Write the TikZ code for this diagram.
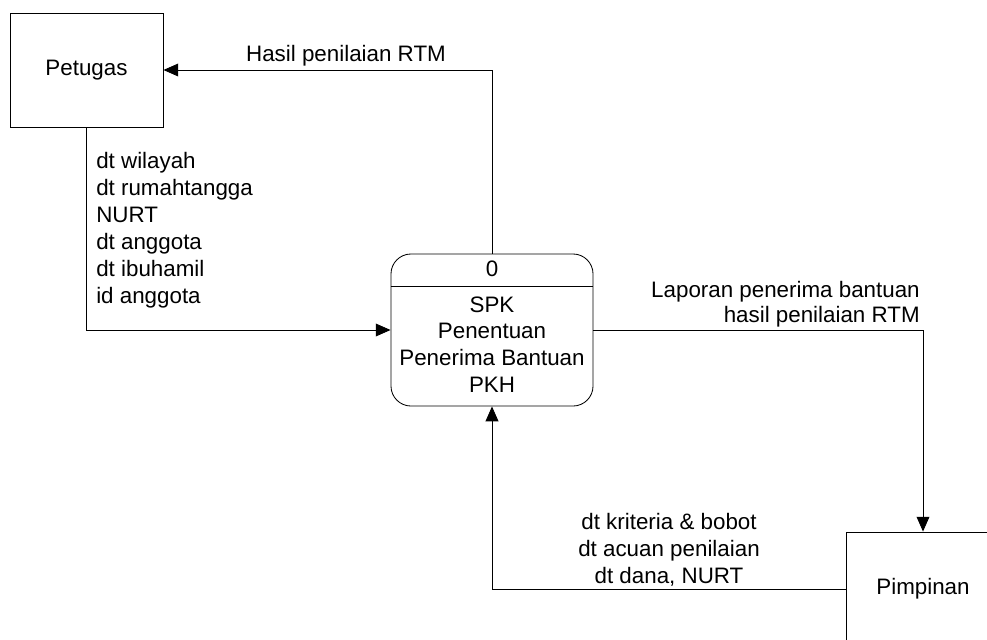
\documentclass[tikz,border=0pt]{standalone}
\usepackage{fontspec}
\setmainfont{Liberation Sans}
\usetikzlibrary{arrows.meta,positioning}

\tikzset{
	entitas/.style={draw, line width=0.6pt, minimum width=3.825cm, minimum height=2.85cm, inner sep=0pt},
	proses/.style={draw, line width=0.6pt, rounded corners=0.5cm, minimum width=5.05cm, minimum height=3.8cm, inner sep=0pt},
	alir/.style={line width=0.6pt, -{Triangle[length=0.37cm, width=0.32cm]}},
	ket/.style={inner sep=0pt, font=\fontsize{15.9}{19.2}\selectfont}
}

\begin{document}
\begin{tikzpicture}[x=0.025cm, y=-0.025cm, font=\fontsize{15.9}{19.2}\selectfont]

	% Fix the page size
	\useasboundingbox (0,0) rectangle (987,639);
	\clip (0,0) rectangle (987,639);

	% Draw the two external entities
	\node[entitas] (petugas) at (86.5,70) {Petugas};
	\node[entitas] (pimpinan) at (923,589) {};
	\node[ket] (namapimpinan) at (923,589) {Pimpinan};

	% Draw the process with its number
	\node[proses] (spk) at (492,330) {};
	\draw[line width=0.6pt] (spk.west |- 0,286) -- (spk.east |- 0,286);
	\node[ket, anchor=base] (nomor) at (492,276) {0};
	\node[ket, anchor=base, align=center, font=\fontsize{15.9}{18.9}\selectfont] (judul) at (492,392)
		{SPK\\Penentuan\\Penerima Bantuan\\PKH};

	% Draw the data flows
	\draw[alir] (spk.north) |- (petugas.east);
	\draw[alir] (petugas.south) |- (spk.west);
	\draw[alir] (spk.east) -| (pimpinan.north);
	\draw[alir] (pimpinan.west) -| (spk.south);

	% Add the flow labels
	\node[ket, anchor=base] (hasil) at (346,61) {Hasil penilaian RTM};
	\node[ket, anchor=base west, align=left] (datapetugas) at (96,303)
		{dt wilayah\\dt rumahtangga\\NURT\\dt anggota\\dt ibuhamil\\id anggota};
	\node[ket, anchor=base east, align=right, font=\fontsize{15.9}{17.2}\selectfont] (laporan) at (920,322)
		{Laporan penerima bantuan\\hasil penilaian RTM};
	\node[ket, anchor=base, align=center] (datapimpinan) at (669,583)
		{dt kriteria \& bobot\\dt acuan penilaian\\dt dana, NURT};

\end{tikzpicture}
\end{document}
